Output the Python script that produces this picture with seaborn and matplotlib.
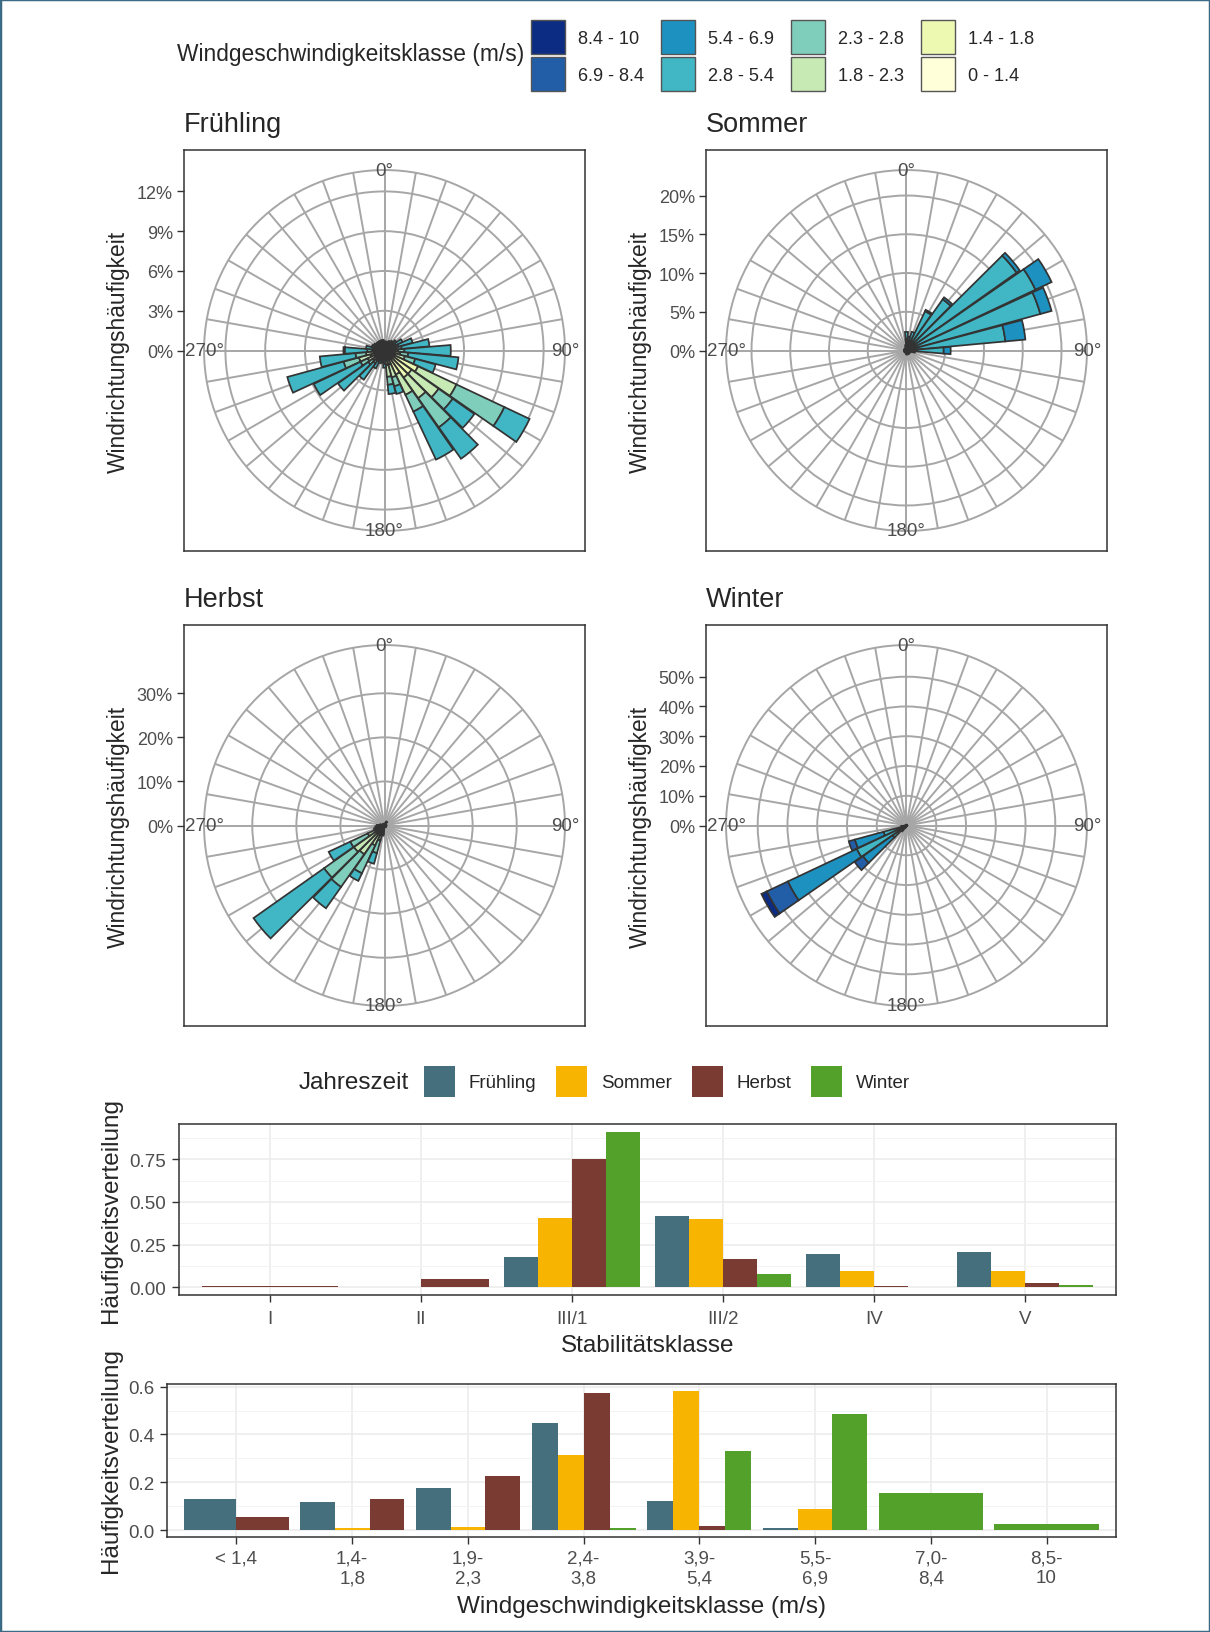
import numpy as np
import matplotlib
matplotlib.use("Agg")
import matplotlib.pyplot as plt
from matplotlib.patches import Patch, Rectangle
import seaborn as sns

# --- wind rose data: share (%) per 10 degree sector, stacked by speed class ---
DIRECTIONS = list(range(0, 360, 10))
SPEED_CLASSES = ["0 - 1.4", "1.4 - 1.8", "1.8 - 2.3", "2.3 - 2.8",
                 "2.8 - 5.4", "5.4 - 6.9", "6.9 - 8.4", "8.4 - 10"]
SPEED_COLORS = ["#FFFFD9", "#EDF8B1", "#C7E9B4", "#7FCDBB",
                "#41B6C4", "#1D91C0", "#225EA8", "#0C2C84"]

# rows = DIRECTIONS, columns = SPEED_CLASSES
ROSE_FRUEHLING = [
    [0.3, 0.2, 0.1, 0.0, 0.1, 0, 0, 0],
    [0.3, 0.2, 0.1, 0.0, 0.0, 0, 0, 0],
    [0.3, 0.1, 0.1, 0.1, 0.1, 0, 0, 0],
    [0.3, 0.2, 0.1, 0.1, 0.1, 0, 0, 0],
    [0.3, 0.2, 0.1, 0.1, 0.2, 0, 0, 0],
    [0.3, 0.2, 0.2, 0.1, 0.3, 0, 0, 0],
    [0.3, 0.2, 0.2, 0.2, 0.6, 0, 0, 0],
    [0.3, 0.2, 0.3, 0.3, 1.1, 0, 0, 0],
    [0.3, 0.3, 0.3, 0.4, 2.1, 0, 0, 0],
    [0.3, 0.3, 0.4, 0.5, 3.5, 0, 0, 0],
    [0.3, 0.4, 0.5, 0.6, 3.8, 0, 0, 0],
    [0.3, 0.5, 0.8, 0.8, 1.6, 0, 0, 0],
    [0.8, 2.0, 3.2, 4.0, 2.1, 0, 0, 0],
    [0.6, 1.9, 2.5, 1.3, 2.0, 0, 0, 0],
    [0.5, 2.0, 1.9, 2.7, 2.9, 0, 0, 0],
    [0.4, 1.6, 1.7, 1.4, 4.0, 0, 0, 0],
    [0.3, 0.8, 1.0, 0.7, 0.6, 0, 0, 0],
    [0.3, 0.8, 0.9, 0.6, 0.7, 0, 0, 0],
    [0.3, 0.3, 0.2, 0.2, 0.3, 0, 0, 0],
    [0.3, 0.2, 0.1, 0.1, 0.2, 0, 0, 0],
    [0.3, 0.2, 0.1, 0.1, 0.3, 0, 0, 0],
    [0.3, 0.2, 0.2, 0.2, 0.6, 0, 0, 0],
    [0.3, 0.3, 0.3, 0.3, 1.5, 0, 0, 0],
    [0.3, 0.4, 0.4, 0.4, 2.8, 0, 0, 0],
    [0.3, 0.5, 0.6, 0.6, 3.9, 0, 0, 0],
    [0.3, 0.8, 0.9, 1.2, 4.4, 0, 0, 0],
    [0.3, 0.5, 0.6, 0.8, 2.7, 0, 0, 0],
    [0.3, 0.3, 0.3, 0.4, 1.7, 0.1, 0, 0],
    [0.3, 0.2, 0.2, 0.2, 0.5, 0, 0, 0],
    [0.3, 0.2, 0.1, 0.1, 0.3, 0, 0, 0],
    [0.3, 0.2, 0.1, 0.1, 0.2, 0, 0, 0],
    [0.3, 0.2, 0.1, 0.1, 0.1, 0, 0, 0],
    [0.3, 0.2, 0.1, 0.1, 0.1, 0, 0, 0],
    [0.3, 0.2, 0.1, 0.1, 0.1, 0, 0, 0],
    [0.3, 0.2, 0.1, 0.1, 0.1, 0, 0, 0],
    [0.3, 0.2, 0.1, 0.1, 0.1, 0, 0, 0],
]

ROSE_SOMMER = [
    [0.3, 0.3, 0.4, 0.4, 1.0, 0, 0, 0],
    [0.3, 0.2, 0.3, 0.3, 0.7, 0, 0, 0],
    [0.3, 0.2, 0.3, 0.4, 1.3, 0, 0, 0],
    [0.2, 0.2, 0.3, 0.4, 4.5, 0.2, 0, 0],
    [0.2, 0.2, 0.3, 0.4, 7.0, 0.3, 0, 0],
    [0.2, 0.2, 0.3, 0.5, 16.2, 0.5, 0, 0],
    [0.2, 0.2, 0.3, 0.5, 17.2, 2.3, 0, 0],
    [0.2, 0.2, 0.3, 0.5, 16.7, 1.5, 0, 0],
    [0.2, 0.2, 0.3, 0.4, 11.7, 2.6, 0, 0],
    [0.2, 0.2, 0.2, 0.3, 3.9, 0.9, 0, 0],
    [0.2, 0.2, 0.2, 0.2, 0.3, 0, 0, 0],
    [0.2, 0.1, 0.1, 0.1, 0.0, 0, 0, 0],
    [0.2, 0.1, 0.1, 0.1, 0.0, 0, 0, 0],
    [0.2, 0.1, 0.1, 0.1, 0.0, 0, 0, 0],
    [0.2, 0.1, 0.1, 0.1, 0.0, 0, 0, 0],
    [0.2, 0.1, 0.1, 0.1, 0.0, 0, 0, 0],
    [0.2, 0.1, 0.1, 0.1, 0.0, 0, 0, 0],
    [0.2, 0.1, 0.1, 0.1, 0.0, 0, 0, 0],
    [0.2, 0.1, 0.1, 0.1, 0.0, 0, 0, 0],
    [0.2, 0.1, 0.0, 0.0, 0.0, 0, 0, 0],
    [0.2, 0.1, 0.0, 0.0, 0.0, 0, 0, 0],
    [0.2, 0.1, 0.0, 0.0, 0.0, 0, 0, 0],
    [0.2, 0.1, 0.0, 0.0, 0.0, 0, 0, 0],
    [0.2, 0.1, 0.0, 0.0, 0.0, 0, 0, 0],
    [0.2, 0.1, 0.0, 0.0, 0.0, 0, 0, 0],
    [0.2, 0.1, 0.0, 0.0, 0.0, 0, 0, 0],
    [0.2, 0.1, 0.0, 0.0, 0.0, 0, 0, 0],
    [0.2, 0.1, 0.0, 0.0, 0.0, 0, 0, 0],
    [0.2, 0.1, 0.0, 0.0, 0.0, 0, 0, 0],
    [0.2, 0.1, 0.0, 0.0, 0.0, 0, 0, 0],
    [0.2, 0.1, 0.0, 0.0, 0.0, 0, 0, 0],
    [0.2, 0.1, 0.0, 0.0, 0.0, 0, 0, 0],
    [0.2, 0.1, 0.0, 0.0, 0.0, 0, 0, 0],
    [0.2, 0.1, 0.0, 0.0, 0.0, 0, 0, 0],
    [0.2, 0.1, 0.0, 0.0, 0.0, 0, 0, 0],
    [0.2, 0.1, 0.1, 0.1, 0.2, 0, 0, 0],
]

ROSE_HERBST = [
    [0.2, 0.1, 0.1, 0.0, 0.0, 0, 0, 0],
    [0.2, 0.1, 0.1, 0.0, 0.0, 0, 0, 0],
    [0.2, 0.1, 0.1, 0.0, 0.0, 0, 0, 0],
    [0.3, 0.3, 0.2, 0.1, 0.1, 0, 0, 0],
    [0.2, 0.1, 0.1, 0.0, 0.0, 0, 0, 0],
    [0.2, 0.1, 0.1, 0.0, 0.0, 0, 0, 0],
    [0.2, 0.1, 0.1, 0.0, 0.0, 0, 0, 0],
    [0.2, 0.1, 0.1, 0.0, 0.0, 0, 0, 0],
    [0.2, 0.1, 0.1, 0.0, 0.0, 0, 0, 0],
    [0.2, 0.1, 0.1, 0.0, 0.0, 0, 0, 0],
    [0.2, 0.1, 0.1, 0.0, 0.0, 0, 0, 0],
    [0.2, 0.1, 0.1, 0.0, 0.0, 0, 0, 0],
    [0.2, 0.1, 0.1, 0.0, 0.0, 0, 0, 0],
    [0.2, 0.1, 0.1, 0.0, 0.0, 0, 0, 0],
    [0.2, 0.1, 0.1, 0.0, 0.0, 0, 0, 0],
    [0.2, 0.1, 0.1, 0.0, 0.0, 0, 0, 0],
    [0.2, 0.1, 0.1, 0.0, 0.0, 0, 0, 0],
    [0.2, 0.1, 0.1, 0.0, 0.0, 0, 0, 0],
    [0.2, 0.1, 0.1, 0.0, 0.0, 0, 0, 0],
    [0.3, 0.5, 0.6, 0.5, 0.4, 0, 0, 0],
    [0.3, 0.7, 2.5, 3.0, 2.5, 0, 0, 0],
    [0.4, 0.8, 3.8, 7.0, 1.9, 0, 0, 0],
    [0.5, 1.0, 6.5, 9.1, 5.9, 0, 0, 0],
    [0.5, 1.0, 7.0, 8.3, 19.6, 0, 0, 0],
    [0.4, 0.8, 3.0, 4.4, 5.4, 0, 0, 0],
    [0.4, 0.6, 0.6, 0.4, 0.5, 0, 0, 0],
    [0.5, 0.6, 0.5, 0.3, 0.2, 0, 0, 0],
    [0.5, 0.5, 0.4, 0.2, 0.1, 0, 0, 0],
    [0.4, 0.3, 0.2, 0.1, 0.0, 0, 0, 0],
    [0.2, 0.1, 0.1, 0.0, 0.0, 0, 0, 0],
    [0.2, 0.1, 0.1, 0.0, 0.0, 0, 0, 0],
    [0.2, 0.1, 0.1, 0.0, 0.0, 0, 0, 0],
    [0.2, 0.1, 0.1, 0.0, 0.0, 0, 0, 0],
    [0.2, 0.1, 0.1, 0.0, 0.0, 0, 0, 0],
    [0.2, 0.1, 0.1, 0.0, 0.0, 0, 0, 0],
    [0.2, 0.1, 0.1, 0.0, 0.0, 0, 0, 0],
]

ROSE_WINTER = [[0.1, 0.1, 0.0, 0.0, 0.0, 0, 0, 0]] * 21 + [
    [0.1, 0.1, 0.1, 0.1, 0.4, 0.2, 0, 0],
    [0.1, 0.1, 0.2, 0.2, 1.2, 0.6, 0, 0],
    [0.1, 0.1, 0.2, 0.3, 5.0, 12.2, 3.4, 0],
    [0.2, 0.2, 0.4, 1.0, 16.7, 25.6, 7.8, 2.0],
    [0.1, 0.1, 0.2, 0.3, 7.3, 10.0, 2.1, 0],
    [0.1, 0.1, 0.2, 0.2, 0.8, 0.4, 0, 0],
] + [[0.1, 0.1, 0.0, 0.0, 0.0, 0, 0, 0]] * 9

ROSE_BREAKS = {
    "Frühling": [0, 3, 6, 9, 12],
    "Sommer": [0, 5, 10, 15, 20],
    "Herbst": [0, 10, 20, 30],
    "Winter": [0, 10, 20, 30, 40, 50],
}

# --- frequency distributions (None = class not present in that season) ---
SEASONS = ["Frühling", "Sommer", "Herbst", "Winter"]
SEASON_COLORS = ["#466F7E", "#F7B400", "#7A3B32", "#53A02B"]

STAB_CLASSES = ["I", "II", "III/1", "III/2", "IV", "V"]
STAB_FRUEHLING = [None, 0.003, 0.180, 0.416, 0.192, 0.209]
STAB_SOMMER = [None, None, 0.408, 0.401, 0.093, 0.093]
STAB_HERBST = [0.006, 0.049, 0.750, 0.167, 0.005, 0.025]
STAB_WINTER = [None, None, 0.911, 0.078, 0.003, 0.011]

WIND_CLASSES = ["< 1,4", "1,4-\n1,8", "1,9-\n2,3", "2,4-\n3,8",
                "3,9-\n5,4", "5,5-\n6,9", "7,0-\n8,4", "8,5-\n10"]
WIND_FRUEHLING = [0.128, 0.117, 0.177, 0.448, 0.123, 0.010, None, None]
WIND_SOMMER = [None, 0.007, 0.012, 0.313, 0.582, 0.090, None, None]
WIND_HERBST = [0.055, 0.131, 0.225, 0.575, 0.019, None, None, None]
WIND_WINTER = [None, None, None, 0.007, 0.330, 0.484, 0.156, 0.025]

sns.set_theme(style="white")
plt.rcParams["font.family"] = ["Liberation Sans", "DejaVu Sans"]

W, H = 1210, 1633
fig = plt.figure(figsize=(W / 100, H / 100), dpi=100)

GREY30 = "#4D4D4D"
GREY20 = "#333333"
GRID_ROSE = "#A6A6A6"


def box(x0, y0, x1, y1):
    return [x0 / W, 1 - y1 / H, (x1 - x0) / W, (y1 - y0) / H]


def wind_rose(rows, title, frame_px):
    data = np.array(rows, dtype=float)
    rmax = data.sum(axis=1).max()
    breaks = ROSE_BREAKS[title]
    x0, y0, x1, y1 = frame_px

    frame = fig.add_axes(box(x0, y0, x1, y1))
    frame.set_xlim(0, 1)
    frame.set_ylim(0, 1)
    frame.set_xticks([])
    frame.set_yticks([0.5 + 0.4 * b / rmax for b in breaks])
    frame.set_yticklabels([f"{b}%" for b in breaks])
    frame.tick_params(axis="y", left=True, length=5, width=1, color=GREY20,
                      labelsize=13, labelcolor=GREY30, pad=3)
    for sp in frame.spines.values():
        sp.set_color(GREY20)
        sp.set_linewidth(1.1)
    frame.set_facecolor("white")

    cx, cy = (x0 + x1) / 2, (y0 + y1) / 2
    half = (x1 - x0) * 0.45
    ax = fig.add_axes(box(cx - half, cy - half, cx + half, cy + half), projection="polar")
    ax.patch.set_alpha(0)
    ax.set_theta_zero_location("N")
    ax.set_theta_direction(-1)
    rlim = rmax * 0.45 / 0.4
    ax.set_ylim(0, rlim)
    ax.set_xticks(np.radians(DIRECTIONS))
    ax.set_xticklabels([])
    ax.set_yticks([b for b in breaks if b > 0])
    ax.set_yticklabels([])
    ax.grid(True, color=GRID_ROSE, linewidth=1.4)
    ax.spines["polar"].set_color(GRID_ROSE)
    ax.spines["polar"].set_linewidth(1.4)
    ax.set_axisbelow(True)

    theta = np.radians(DIRECTIONS)
    bottom = np.zeros(len(DIRECTIONS))
    for k, col in enumerate(SPEED_COLORS):
        vals = data[:, k]
        mask = vals > 0
        ax.bar(theta[mask], vals[mask], width=np.radians(10) * 0.95,
               bottom=bottom[mask], color=col, edgecolor=GREY20,
               linewidth=1.25, zorder=3)
        bottom += vals

    for deg in (0, 90, 180, 270):
        ax.text(np.radians(deg), rlim, f"{deg}°", ha="center", va="center",
                fontsize=13.5, color=GREY30, zorder=5)

    fig.text(x0 / W, 1 - (y0 - 26) / H, title, fontsize=19.5, ha="left", va="center")
    fig.text((x0 - 66) / W, 1 - cy / H, "Windrichtungshäufigkeit", rotation=90,
             ha="center", va="center", fontsize=16.4)


wind_rose(ROSE_FRUEHLING, "Frühling", (184, 151, 585, 552))
wind_rose(ROSE_SOMMER, "Sommer", (706, 151, 1107, 552))
wind_rose(ROSE_HERBST, "Herbst", (184, 626, 585, 1027))
wind_rose(ROSE_WINTER, "Winter", (706, 626, 1107, 1027))

# speed class legend (descending, two rows)
speed_handles = [Patch(facecolor=c, edgecolor="#555555", linewidth=1)
                 for c in SPEED_COLORS[::-1]]
fig.legend(speed_handles, SPEED_CLASSES[::-1], ncol=4, loc="upper left",
           bbox_to_anchor=(531 / W, 1 - 21 / H), frameon=False, fontsize=13.1,
           handlelength=1.87, handleheight=2.5, handletextpad=0.7,
           columnspacing=0.95, labelspacing=0.17, borderpad=0, borderaxespad=0)
fig.text(524 / W, 1 - 55 / H, "Windgeschwindigkeitsklasse (m/s)", fontsize=16.4,
         ha="right", va="center")


def dodge_bars(ax, categories, series):
    ymax = max(v for vals in series for v in vals if v is not None)
    for i in range(len(categories)):
        present = [(c, vals[i]) for c, vals in zip(SEASON_COLORS, series) if vals[i] is not None]
        w = 0.9 / len(present)
        for k, (c, v) in enumerate(present):
            ax.bar(i - 0.45 + w * (k + 0.5), v, width=w, color=c, linewidth=0, zorder=3)
    ax.set_xlim(-0.6, len(categories) - 0.4)
    ax.set_ylim(-0.05 * ymax, 1.05 * ymax)
    ax.set_xticks(range(len(categories)))
    ax.set_xticklabels(categories)
    ax.grid(which="major", color="#EBEBEB", linewidth=1.1)
    ax.grid(which="minor", axis="y", color="#F3F3F3", linewidth=0.7)
    ax.set_axisbelow(True)
    ax.tick_params(which="major", length=5, width=1, color=GREY20, labelsize=13.5,
                   labelcolor=GREY30, left=True, bottom=True, pad=4)
    ax.tick_params(axis="x", which="major", pad=6)
    ax.tick_params(which="minor", length=0)
    for sp in ax.spines.values():
        sp.set_color(GREY20)
        sp.set_linewidth(1.1)


ax1 = fig.add_axes(box(179, 1125, 1116, 1296))
dodge_bars(ax1, STAB_CLASSES, [STAB_FRUEHLING, STAB_SOMMER, STAB_HERBST, STAB_WINTER])
ax1.set_yticks([0, 0.25, 0.5, 0.75])
ax1.set_yticklabels(["0.00", "0.25", "0.50", "0.75"])
ax1.set_yticks([0.125, 0.375, 0.625, 0.875], minor=True)

ax2 = fig.add_axes(box(167, 1385, 1116, 1538))
dodge_bars(ax2, WIND_CLASSES, [WIND_FRUEHLING, WIND_SOMMER, WIND_HERBST, WIND_WINTER])
ax2.set_yticks([0, 0.2, 0.4, 0.6])
ax2.set_yticklabels(["0.0", "0.2", "0.4", "0.6"])
ax2.set_yticks([0.1, 0.3, 0.5], minor=True)
ax2.tick_params(axis="x", which="major", pad=4)

fig.text(647.5 / W, 1 - 1346 / H, "Stabilitätsklasse", fontsize=17.5, ha="center", va="center")
fig.text(641.5 / W, 1 - 1607 / H, "Windgeschwindigkeitsklasse (m/s)", fontsize=17.5,
         ha="center", va="center")
fig.text(111 / W, 1 - 1211 / H, "Häufigkeitsverteilung", rotation=90, fontsize=17.5,
         ha="center", va="center")
fig.text(111 / W, 1 - 1461 / H, "Häufigkeitsverteilung", rotation=90, fontsize=17.5,
         ha="center", va="center")

# season legend
season_handles = [Patch(facecolor=c, linewidth=0) for c in SEASON_COLORS]
fig.legend(season_handles, SEASONS, ncol=4, loc="upper left",
           bbox_to_anchor=(424 / W, 1 - 1067 / H), frameon=False, fontsize=13.5,
           handlelength=1.65, handleheight=2.17, handletextpad=0.73,
           columnspacing=1.07, borderpad=0, borderaxespad=0)
fig.text(299 / W, 1 - 1083 / H, "Jahreszeit", fontsize=17.5, ha="left", va="center")

fig.patches.append(Rectangle((0, 0), 1, 1, transform=fig.transFigure, fill=False,
                             edgecolor="#3B6A84", linewidth=2.5))

fig.savefig("out.png", dpi=100)
